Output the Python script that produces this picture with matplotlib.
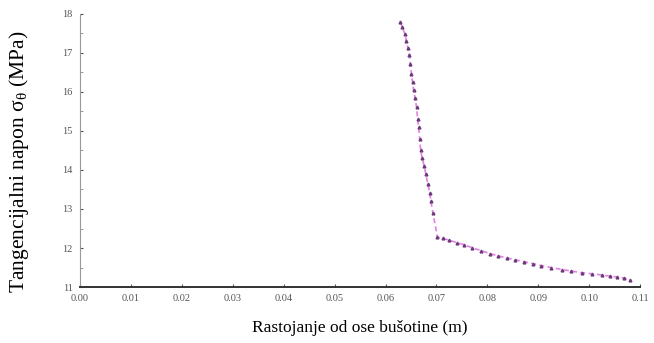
import numpy as np
import matplotlib.pyplot as plt
from matplotlib.ticker import MultipleLocator

# rastojanje (m) i tangencijalni napon (MPa)
r = [0.0629, 0.0633, 0.0638, 0.0641, 0.0644, 0.0647, 0.0649, 0.0651, 0.0653, 0.0655,
     0.0658, 0.0661, 0.0663, 0.0665, 0.0667, 0.0669, 0.0672, 0.0676, 0.0679, 0.0683,
     0.0687, 0.0689, 0.0693,
     0.0702, 0.0712, 0.0725, 0.0740, 0.0755, 0.0770, 0.0788, 0.0805, 0.0820, 0.0838,
     0.0855, 0.0872, 0.0890, 0.0906, 0.0925, 0.0946, 0.0965, 0.0985, 0.1005, 0.1025,
     0.1040, 0.1055, 0.1068, 0.1080]
sigma = [17.80, 17.65, 17.48, 17.30, 17.12, 16.95, 16.70, 16.45, 16.25, 16.05,
         15.85, 15.60, 15.30, 15.10, 14.80, 14.50, 14.30, 14.10, 13.90, 13.65,
         13.40, 13.20, 12.90,
         12.28, 12.25, 12.20, 12.14, 12.08, 12.01, 11.93, 11.86, 11.80, 11.75,
         11.70, 11.65, 11.60, 11.55, 11.50, 11.45, 11.41, 11.37, 11.34, 11.31,
         11.28, 11.26, 11.23, 11.18]

xticks = [0.00, 0.01, 0.02, 0.03, 0.04, 0.05, 0.06, 0.07, 0.08, 0.09, 0.10, 0.11]
yticks = [11, 12, 13, 14, 15, 16, 17, 18]

fig = plt.figure(figsize=(6.54, 3.43), dpi=100)
ax = fig.add_axes([0.122, 0.163, 0.857, 0.797])

ax.plot(r, sigma, color='#e680e6', linestyle='--', linewidth=1.2,
        marker='^', markersize=2, markerfacecolor='#6a3a7a',
        markeredgecolor='#6a3a7a', dashes=(3, 2))

ax.set_xlim(0, 0.11)
ax.set_ylim(11, 18)
ax.set_xticks(xticks)
ax.set_xticklabels(['{:.2f}'.format(t) for t in xticks])
ax.set_yticks(yticks)
ax.yaxis.set_minor_locator(MultipleLocator(0.5))

for s in ['top', 'right']:
    ax.spines[s].set_visible(False)
ax.spines['left'].set_color('#999999')
ax.spines['bottom'].set_color('#333333')
ax.spines['bottom'].set_linewidth(1.4)
ax.tick_params(axis='both', labelsize=7.5, colors='#555555', length=2,
               direction='in', labelcolor='#555555', pad=5)
ax.tick_params(axis='y', which='minor', length=2, direction='in', color='#888888')
for lab in ax.get_xticklabels() + ax.get_yticklabels():
    lab.set_family('Liberation Serif')

ax.set_xlabel('Rastojanje od ose bušotine (m)', family='Liberation Serif',
              fontsize=12.5, labelpad=12)
ax.set_ylabel(r'Tangencijalni napon $\mathregular{\sigma_\theta}$ (MPa)',
              family='Liberation Serif', fontsize=15.5)
ax.yaxis.set_label_coords(-0.087, 0.46)

fig.savefig('out.png', dpi=100)
